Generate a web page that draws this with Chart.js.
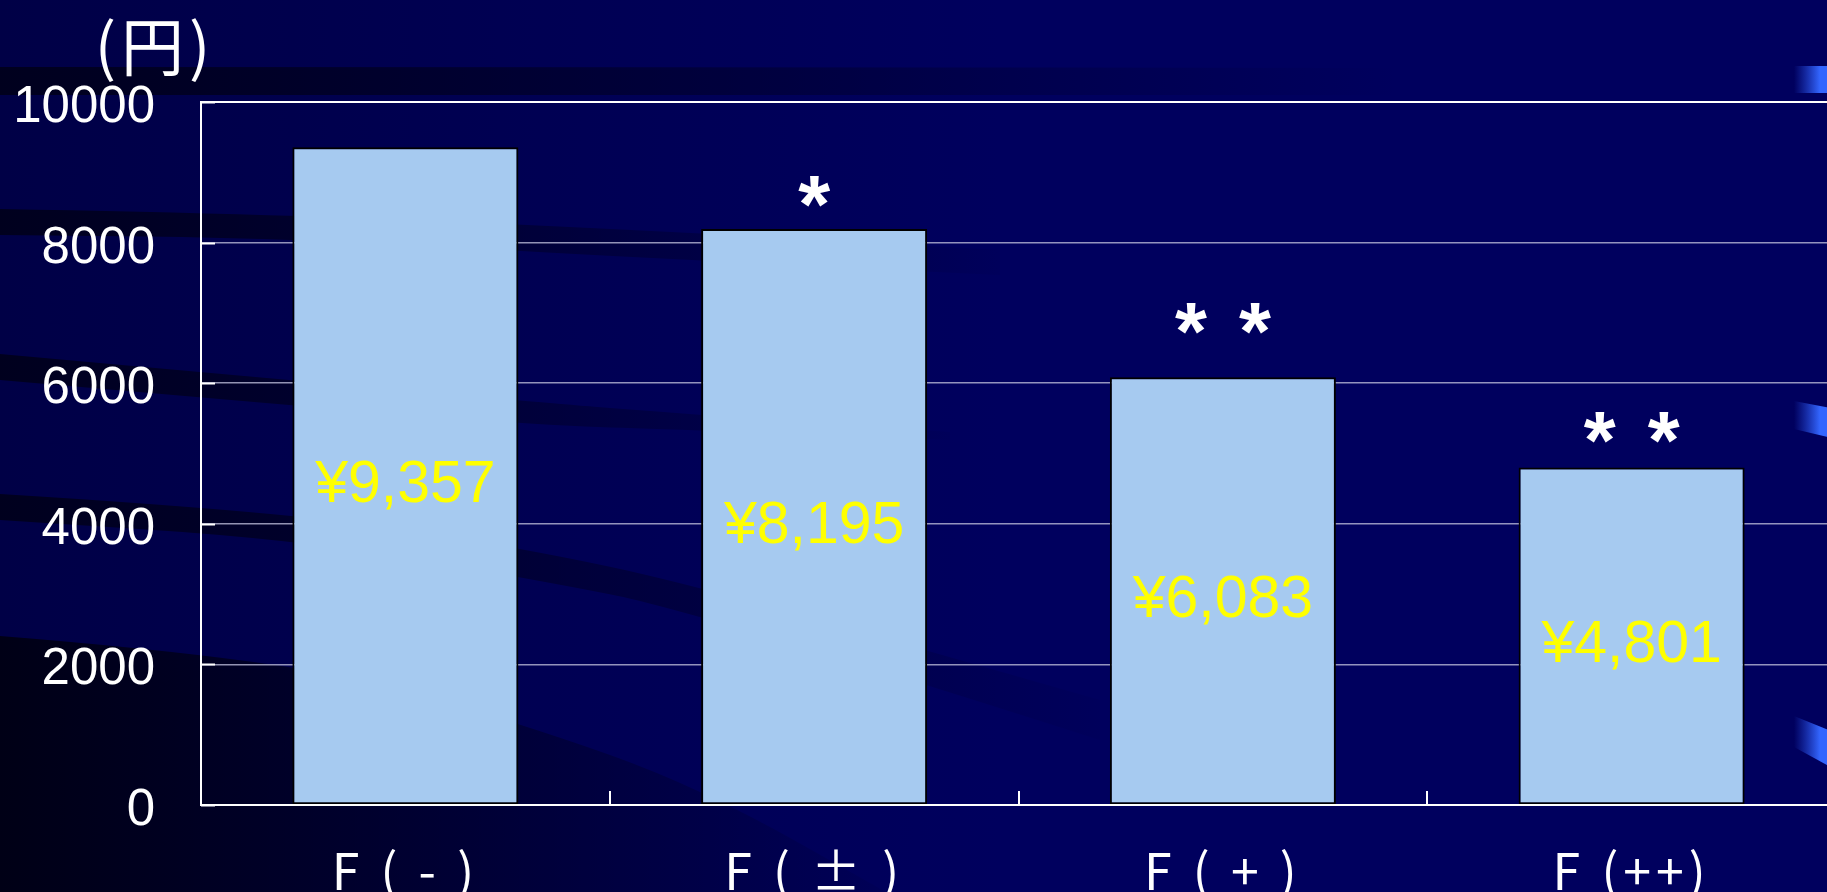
<!DOCTYPE html>
<html>
<head>
<meta charset="utf-8">
<script src="https://cdn.jsdelivr.net/npm/chart.js@4.4.1/dist/chart.umd.min.js"></script>
<style>
  html, body { margin: 0; padding: 0; background: #00005C; overflow: hidden; }
  #wrap { position: relative; width: 1836px; height: 892px; }
</style>
</head>
<body>
<div id="wrap"><canvas id="c" width="1836" height="892"></canvas></div>
<script>
// ---- data ----
const categories = ['F ( - )', 'F ( ± )', 'F ( + )', 'F (++)'];
const values = [9357, 8195, 6083, 4801];
const significance = ['', '*', '**', '**'];
const yTicks = [0, 2000, 4000, 6000, 8000, 10000];
const unitLabel = '(円)';

const valueLabels = values.map(v => '¥' + v.toLocaleString('en-US'));

// ---- background decoration ----
function smoothPath(ctx, pts, moveFirst) {
  if (moveFirst) ctx.moveTo(pts[0][0], pts[0][1]); else ctx.lineTo(pts[0][0], pts[0][1]);
  for (let i = 1; i < pts.length - 1; i++) {
    const mx = (pts[i][0] + pts[i + 1][0]) / 2, my = (pts[i][1] + pts[i + 1][1]) / 2;
    ctx.quadraticCurveTo(pts[i][0], pts[i][1], mx, my);
  }
  const l = pts[pts.length - 1];
  ctx.lineTo(l[0], l[1]);
}
function band(ctx, top, bot, fade0, fade1, col) {
  ctx.save();
  ctx.beginPath();
  smoothPath(ctx, top, true);
  smoothPath(ctx, bot.slice().reverse(), false);
  ctx.closePath();
  const g = ctx.createLinearGradient(fade0, 0, fade1, 0);
  g.addColorStop(0, col);
  g.addColorStop(1, 'rgba(0,0,30,0)');
  ctx.fillStyle = g;
  ctx.fill();
  ctx.restore();
}
function highlight(ctx, x0, x1, yt0, yt1, yb0, yb1) {
  ctx.save();
  ctx.beginPath();
  ctx.moveTo(x0, yt0); ctx.lineTo(x1, yt1); ctx.lineTo(x1, yb1); ctx.lineTo(x0, yb0); ctx.closePath();
  const g = ctx.createLinearGradient(x0, 0, x0 + 26, 0);
  g.addColorStop(0, 'rgba(40,80,230,0)');
  g.addColorStop(1, '#3366FF');
  ctx.fillStyle = g;
  ctx.fill();
  ctx.restore();
}
const bgPlugin = {
  id: 'bg',
  beforeDraw(chart) {
    const ctx = chart.ctx, W = chart.width, H = chart.height;
    ctx.save();
    const g = ctx.createLinearGradient(0, 0, 1000, 0);
    g.addColorStop(0, '#000046');
    g.addColorStop(1, '#00005E');
    ctx.fillStyle = g;
    ctx.fillRect(0, 0, W, H);
    ctx.restore();
    band(ctx, [[0, 67], [700, 67], [1400, 68]], [[0, 95], [700, 95], [1400, 95]], 0, 1400, 'rgba(0,0,28,0.95)');
    band(ctx, [[0, 209], [290, 214], [700, 233], [1000, 250]], [[0, 235], [290, 238], [700, 261], [1000, 275]], 0, 1050, 'rgba(0,0,28,0.95)');
    band(ctx, [[0, 354], [520, 401], [700, 415], [950, 432]], [[0, 380], [520, 425], [700, 430], [950, 440]], 0, 1000, 'rgba(0,0,28,0.95)');
    band(ctx, [[0, 494], [293, 512], [522, 548], [700, 586], [1100, 700]], [[0, 520], [293, 539], [522, 577], [700, 612], [1100, 740]], 0, 1150, 'rgba(0,0,28,0.95)');
    band(ctx, [[0, 636], [300, 660], [520, 723], [700, 787], [900, 900]], [[0, 900], [300, 900], [520, 900], [700, 900], [900, 900]], 0, 950, 'rgba(0,0,22,1)');
    highlight(ctx, 1794, 1836, 66, 66, 93, 93);
    highlight(ctx, 1794, 1836, 401, 409, 429, 439);
    highlight(ctx, 1794, 1836, 716, 733, 747, 770);
  },
  afterDatasetsDraw(chart) {
    // spacing for the category labels (their layer is drawn after the datasets)
    chart.ctx.letterSpacing = '5px';
  }
};

// ---- overlays: labels, significance marks, inner ticks, unit ----
const overlayPlugin = {
  id: 'overlay',
  afterDraw(chart, args, opts) {
    const ctx = chart.ctx;
    ctx.letterSpacing = '0px';
    const xs = chart.scales.x, ys = chart.scales.y;
    const meta = chart.getDatasetMeta(0);
    ctx.save();
    // value labels
    ctx.font = '59px "Liberation Sans", Arial, sans-serif';
    ctx.fillStyle = '#FFFF00';
    ctx.textAlign = 'center';
    ctx.textBaseline = 'alphabetic';
    meta.data.forEach((bar, i) => {
      const p = bar.getProps(['x', 'y', 'base'], true);
      const m = ctx.measureText(valueLabels[i]);
      const cy = (p.y + p.base) / 2 + opts.labelShift;
      const base = cy + (m.actualBoundingBoxAscent - m.actualBoundingBoxDescent) / 2;
      ctx.fillText(valueLabels[i], p.x, base);
    });
    // significance asterisks
    ctx.fillStyle = '#FFFFFF';
    ctx.font = 'bold 100px "Liberation Sans", Arial, sans-serif';
    const m0 = ctx.measureText('*');
    const gw = m0.actualBoundingBoxLeft + m0.actualBoundingBoxRight;
    const size = 100 * opts.starWidth / gw;
    ctx.font = 'bold ' + size + 'px "Liberation Sans", Arial, sans-serif';
    const ms = ctx.measureText('*');
    meta.data.forEach((bar, i) => {
      const s = significance[i];
      if (!s) return;
      const p = bar.getProps(['x', 'y'], true);
      const bottom = p.y - opts.starGap[i];
      const baseline = bottom - ms.actualBoundingBoxDescent;
      const n = s.length;
      for (let k = 0; k < n; k++) {
        const cx = p.x + (k - (n - 1) / 2) * opts.starPitch;
        ctx.fillText('*', cx, baseline);
      }
    });
    // inner tick marks
    ctx.strokeStyle = '#FFFFFF';
    ctx.lineWidth = 2;
    ctx.beginPath();
    ys.ticks.forEach(t => {
      const py = Math.round(ys.getPixelForValue(t.value)) + 0.5;
      ctx.moveTo(chart.chartArea.left, py);
      ctx.lineTo(chart.chartArea.left + 14, py);
    });
    for (let i = 1; i < categories.length; i++) {
      const px = Math.round((xs.getPixelForValue(i - 1) + xs.getPixelForValue(i)) / 2);
      ctx.moveTo(px, chart.chartArea.bottom);
      ctx.lineTo(px, chart.chartArea.bottom - 14);
    }
    ctx.stroke();
    // unit label
    ctx.font = '63px "Noto Sans CJK JP", sans-serif';
    ctx.letterSpacing = '5px';
    ctx.textAlign = 'center';
    ctx.textBaseline = 'middle';
    ctx.fillText(unitLabel, 155, 46);
    ctx.restore();
  }
};

new Chart(document.getElementById('c'), {
  type: 'bar',
  data: {
    labels: categories,
    datasets: [{
      data: values,
      backgroundColor: '#A6CAF0',
      borderColor: '#000000',
      borderWidth: 2,
      borderSkipped: false,
      categoryPercentage: 1,
      barPercentage: 0.553
    }]
  },
  options: {
    responsive: false,
    devicePixelRatio: 1,
    animation: false,
    layout: { padding: { top: 102, left: 0, right: 0, bottom: 0 } },
    plugins: {
      legend: { display: false },
      tooltip: { enabled: false },
      overlay: { labelShift: 9, starWidth: 32, starPitch: 64, starGap: [0, 22, 43, 24] }
    },
    scales: {
      x: {
        grid: { display: false, drawTicks: false },
        border: { color: '#FFFFFF', width: 2, z: 1 },
        ticks: {
          z: 1,
          color: '#FFFFFF',
          font: { family: '"Noto Sans CJK JP"', size: 50 },
          padding: 36,
          maxRotation: 0,
          autoSkip: false
        },
        afterFit(s) { s.height = 87; }
      },
      y: {
        min: 0,
        max: 10000,
        afterBuildTicks(s) { s.ticks = yTicks.map(v => ({ value: v })); },
        ticks: {
          color: '#FFFFFF',
          font: { family: '"Liberation Sans"', size: 51 },
          padding: 46,
          labelOffset: 6,
          callback: v => String(v)
        },
        grid: {
          drawTicks: false,
          color: c => (c.tick && c.tick.value === 10000) ? '#FFFFFF' : 'rgba(185,185,215,0.8)',
          lineWidth: c => (c.tick && c.tick.value === 10000) ? 2 : 1.5
        },
        border: { color: '#FFFFFF', width: 2 },
        afterFit(s) { s.width = 201; }
      }
    }
  },
  plugins: [bgPlugin, overlayPlugin]
});
</script>
</body>
</html>
